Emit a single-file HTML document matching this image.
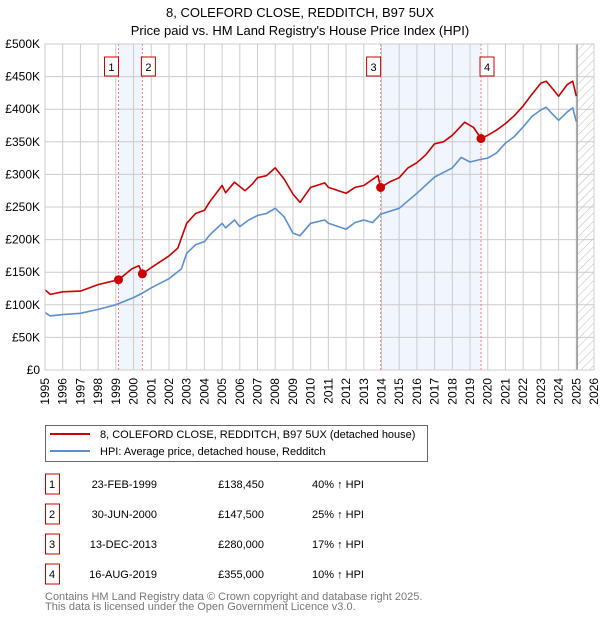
<!DOCTYPE html>
<html><head><meta charset="utf-8">
<style>
body{margin:0;background:#fff;font-family:"Liberation Sans","DejaVu Sans",sans-serif;}
#wrap{position:relative;width:600px;height:620px;overflow:hidden;}
</style></head>
<body>
<div id="wrap">
<svg id="chart" width="600" height="620" xmlns="http://www.w3.org/2000/svg" font-family="Liberation Sans, DejaVu Sans, sans-serif">
<defs>
<pattern id="hatch" width="6" height="6" patternUnits="userSpaceOnUse" patternTransform="rotate(45)">
<line x1="0" y1="0" x2="0" y2="6" stroke="#bbb" stroke-width="1"/>
</pattern>
</defs>
<text x="300" y="17" text-anchor="middle" font-size="13">8, COLEFORD CLOSE, REDDITCH, B97 5UX</text>
<text x="300" y="35" text-anchor="middle" font-size="13">Price paid vs. HM Land Registry's House Price Index (HPI)</text>
<g id="plot"></g>
<g>
<rect x="45.5" y="425.5" width="382" height="36" fill="#fff" stroke="#666"/>
<line x1="50" y1="434" x2="90" y2="434" stroke="#cc0000" stroke-width="2"/>
<text x="100" y="438" font-size="11">8, COLEFORD CLOSE, REDDITCH, B97 5UX (detached house)</text>
<line x1="50" y1="451" x2="90" y2="451" stroke="#5b8fd0" stroke-width="2"/>
<text x="100" y="455" font-size="11">HPI: Average price, detached house, Redditch</text>
</g>
<g id="table" font-size="11"></g>
<text x="45" y="600" font-size="11" fill="#777">Contains HM Land Registry data © Crown copyright and database right 2025.</text>
<text x="45" y="610" font-size="11" fill="#777">This data is licensed under the Open Government Licence v3.0.</text>
</svg>
</div>
<script>
const hpiYears=[1995,1995.3,1996,1997,1998,1999,2000,2000.5,2001,2002,2002.7,2003,2003.5,2004,2004.3,2005,2005.2,2005.7,2006,2006.5,2007,2007.5,2008,2008.5,2009,2009.4,2010,2010.8,2011,2012,2012.5,2013,2013.5,2013.95,2015,2016,2017,2018,2018.5,2019,2019.6,2020,2020.5,2021,2021.5,2022,2022.5,2023,2023.3,2023.6,2024,2024.5,2024.8,2025];
const hpiValues=[88,83,85,87,93,100,111,118,126,140,155,179,192,197,207,225,218,230,220,230,237,240,248,235,210,206,225,230,225,216,226,230,226,239,248,271,296,310,326,319,323,325,333,348,358,373,389,399,403,394,383,396,402,381];
const propYears=[1995,1995.3,1996,1997,1998,1999.15,1999.9,2000.3,2000.5,2001,2002,2002.5,2003,2003.5,2004,2004.3,2005,2005.2,2005.7,2006.3,2006.7,2007,2007.5,2008,2008.5,2009,2009.4,2010,2010.8,2011,2012,2012.5,2013,2013.8,2013.95,2014.5,2015,2015.5,2016,2016.5,2017,2017.5,2018,2018.7,2019.2,2019.62,2020,2020.5,2021,2021.5,2022,2022.5,2023,2023.3,2023.7,2024,2024.5,2024.8,2025];
const propValues=[123,116,120,121,131,138.45,155,160,147.5,157,175,187,225,240,245,258,283,272,288,275,285,295,298,310,293,270,257,280,287,280,271,280,283,298,280,289,295,310,318,330,347,350,360,380,372,355,360,368,378,390,405,423,440,443,430,420,438,443,420];
const saleLabels=["1","2","3","4"];
const saleYears=[1999.15,2000.5,2013.95,2019.62];
const saleValues=[138.45,147.5,280,355];
const saleDates=["23-FEB-1999","30-JUN-2000","13-DEC-2013","16-AUG-2019"];
const salePrices=["£138,450","£147,500","£280,000","£355,000"];
const saleDiffs=["40% ↑ HPI","25% ↑ HPI","17% ↑ HPI","10% ↑ HPI"];
const yTicks=[0,50,100,150,200,250,300,350,400,450,500];
const yTickLabels=["£0","£50K","£100K","£150K","£200K","£250K","£300K","£350K","£400K","£450K","£500K"];
const xTicks=[1995,1996,1997,1998,1999,2000,2001,2002,2003,2004,2005,2006,2007,2008,2009,2010,2011,2012,2013,2014,2015,2016,2017,2018,2019,2020,2021,2022,2023,2024,2025,2026];

const L=45,R=594,T=44,B=370,X0=1995,X1=2026,Ymax=500,dataEnd=2025.05;
const xs=v=>L+(v-X0)/(X1-X0)*(R-L);
const ys=v=>B-v/Ymax*(B-T);
const NS="http://www.w3.org/2000/svg";
const plot=document.getElementById('plot');
function mk(tag,attrs,parent){const e=document.createElementNS(NS,tag);for(const k in attrs)e.setAttribute(k,attrs[k]);(parent||plot).appendChild(e);return e;}

for(let i=0;i<saleYears.length;i+=2){
  const r=mk('rect',{x:xs(saleYears[i]),y:T,width:xs(saleYears[i+1])-xs(saleYears[i]),height:B-T,fill:'#eef3fc',opacity:0.8});
  
  
}
const h=mk('rect',{x:xs(dataEnd),y:T,width:R-xs(dataEnd),height:B-T,fill:'url(#hatch)'});


yTicks.forEach((v,i)=>{
  const g=mk('line',{x1:L,x2:R,y1:ys(v),y2:ys(v),stroke:'#ccc','stroke-width':1});
  
  
  const t=mk('text',{x:L-5,y:ys(v)+4,'text-anchor':'end','font-size':12});
  t.textContent=yTickLabels[i];
  
  
});
xTicks.forEach(v=>{
  const g=mk('line',{x1:xs(v),x2:xs(v),y1:T,y2:B,stroke:'#ccc','stroke-width':1});
  
  
  const tx=xs(v)+4, ty=378;
  const t=mk('text',{x:tx,y:ty,'text-anchor':'end','font-size':12,transform:'rotate(-90 '+tx+' '+ty+')'});
  t.textContent=String(v);
  
  
});
const dl=mk('line',{x1:xs(dataEnd),x2:xs(dataEnd),y1:T,y2:B,stroke:'#999','stroke-width':1.5});


saleYears.forEach((v,i)=>{
  const l=mk('line',{x1:xs(v),x2:xs(v),y1:T,y2:B,stroke:'#f08080','stroke-width':1,'stroke-dasharray':'2,2'});
  
  
});
function line(xa,ya,color,name){
  const d=xa.map((x,i)=>(i?'L':'M')+xs(x).toFixed(1)+','+ys(ya[i]).toFixed(1)).join('');
  const p=mk('path',{d:d,fill:'none',stroke:color,'stroke-width':1.6,'stroke-linejoin':'round'});
  
  
}
line(hpiYears,hpiValues,'#5b8fd0','hpi-line');
line(propYears,propValues,'#cc0000','property-price-line');
saleYears.forEach((v,i)=>{
  const c=mk('circle',{cx:xs(v),cy:ys(saleValues[i]),r:4.5,fill:'#cc0000'});
  
  
  const bx=xs(v)-(i%2===0?12:-1);
  const r=mk('rect',{x:bx-2,y:57,width:14,height:19,fill:'#fff',stroke:'#cc0000'});
  
  
  const t=mk('text',{x:bx+5,y:71,'text-anchor':'middle','font-size':11});
  t.textContent=saleLabels[i];
  
  
});
const fr=mk('rect',{x:L,y:T,width:R-L,height:B-T,fill:'none',stroke:'#ccc'});



const tbl=document.getElementById('table');
saleLabels.forEach((s,i)=>{
  const y=483+i*30;
  const r=mk('rect',{x:45.5,y:y-9,width:14,height:20,fill:'#fff',stroke:'#cc0000'},tbl);
  
  
  const cells=[[52,s,'middle'],[157,saleDates[i],'end'],[264,salePrices[i],'end'],[312,saleDiffs[i],'start']];
  cells.forEach(c=>{
    const t=mk('text',{x:c[0],y:y+5,'text-anchor':c[2],'font-size':11},tbl);
    t.textContent=c[1];
    
    
  });
});
</script>
</body></html>
